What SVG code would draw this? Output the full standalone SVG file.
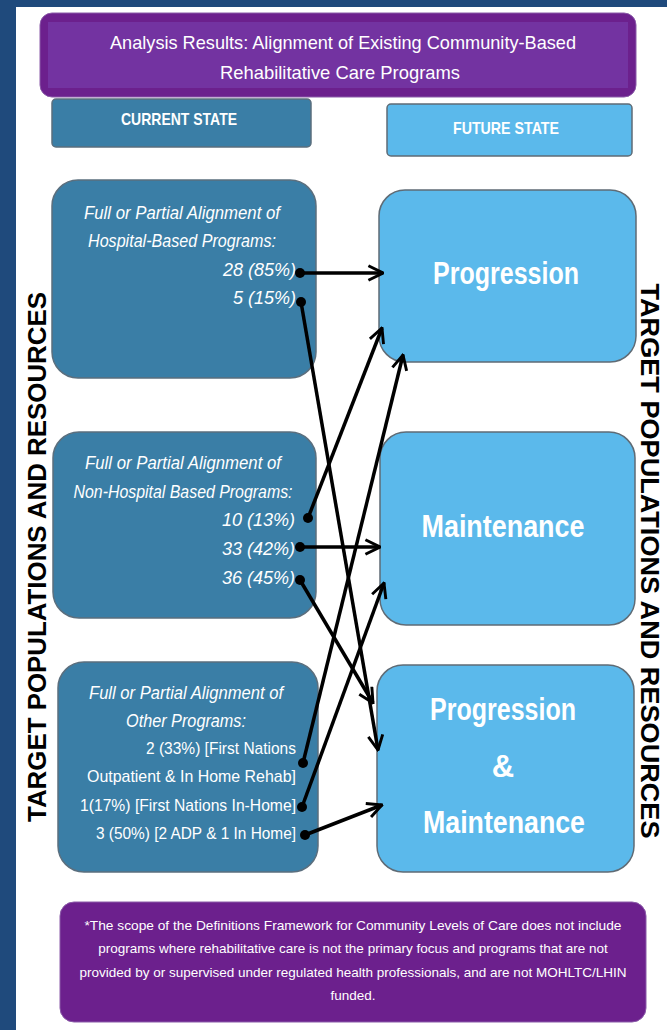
<svg xmlns="http://www.w3.org/2000/svg" width="667" height="1030" viewBox="0 0 667 1030">
<style>
.cur{fill:#3a7ea6;stroke:#5b6f7e;stroke-width:1.5}
.fut{fill:#5bb9eb;stroke:#5f6b75;stroke-width:1.5}
.pur{fill:#6c208d;stroke:#8a5aa8;stroke-width:1}
.t{font-family:"Liberation Sans","Arial",sans-serif;fill:#fff}
.it{font-style:italic;font-size:18px}
.nm{font-size:17px}
.big{font-family:"Liberation Sans","Arial",sans-serif;fill:#fff;font-size:31px;font-weight:bold;text-anchor:middle}
.side{font-family:"Liberation Sans","Arial",sans-serif;font-weight:bold;font-size:26px;fill:#000;text-anchor:middle}
.ln{stroke:#000;stroke-width:3.5;fill:none}
</style>
<defs>
<marker id="ah" viewBox="0 0 12 12" refX="11" refY="6" markerWidth="5" markerHeight="5" markerUnits="strokeWidth" orient="auto">
<path d="M1,1 L11,6 L1,11" fill="none" stroke="#000" stroke-width="2"/>
</marker>
</defs>
<rect x="0" y="0" width="667" height="1030" fill="#fff"/>
<rect x="0" y="0" width="667" height="7" fill="#1f4a7c"/>
<rect x="0" y="0" width="16" height="1030" fill="#1f4a7c"/>

<g id="title">
<rect class="pur" x="40" y="13" width="596" height="84" rx="12"/>
<rect x="48" y="22" width="580" height="66" fill="#7333a1"/>
<text class="t" x="343" y="49" font-size="19" text-anchor="middle" textLength="466" lengthAdjust="spacingAndGlyphs">Analysis Results:  Alignment of Existing Community-Based</text>
<text class="t" x="340" y="79" font-size="19" text-anchor="middle" textLength="240" lengthAdjust="spacingAndGlyphs">Rehabilitative Care Programs</text>
</g>
<g id="current-state">
<rect class="cur" x="52" y="99" width="259" height="48" rx="4" stroke="#2a4a5e" stroke-width="2"/>
<text class="t" x="179" y="125" font-size="17" font-weight="bold" text-anchor="middle" textLength="116" lengthAdjust="spacingAndGlyphs">CURRENT STATE</text>
</g>
<g id="future-state">
<rect class="fut" x="387" y="104" width="245" height="52" rx="4"/>
<text class="t" x="506" y="134" font-size="17" font-weight="bold" text-anchor="middle" textLength="106" lengthAdjust="spacingAndGlyphs">FUTURE STATE</text>
</g>

<g id="hospital">
<rect class="cur" x="52" y="180" width="264" height="198" rx="26"/>
<text class="t it" x="182" y="219" text-anchor="middle" textLength="196" lengthAdjust="spacingAndGlyphs">Full or Partial Alignment of</text>
<text class="t it" x="182" y="247" text-anchor="middle" textLength="188" lengthAdjust="spacingAndGlyphs">Hospital-Based Programs:</text>
<text class="t it" x="296" y="276" text-anchor="end">28 (85%)</text>
<text class="t it" x="296" y="304" text-anchor="end">5 (15%)</text>
</g>
<g id="non-hospital">
<rect class="cur" x="53" y="432" width="263" height="186" rx="26"/>
<text class="t it" x="183" y="469" text-anchor="middle" textLength="196" lengthAdjust="spacingAndGlyphs">Full or Partial Alignment of</text>
<text class="t it" x="183" y="498" text-anchor="middle" textLength="219" lengthAdjust="spacingAndGlyphs">Non-Hospital  Based Programs:</text>
<text class="t it" x="295" y="526" text-anchor="end">10 (13%)</text>
<text class="t it" x="295" y="555" text-anchor="end">33 (42%)</text>
<text class="t it" x="295" y="584" text-anchor="end">36 (45%)</text>
</g>
<g id="other">
<rect class="cur" x="58" y="662" width="260" height="210" rx="26"/>
<text class="t it" x="186" y="699" text-anchor="middle" textLength="194" lengthAdjust="spacingAndGlyphs">Full or Partial Alignment of</text>
<text class="t it" x="186" y="727" text-anchor="middle" textLength="120" lengthAdjust="spacingAndGlyphs">Other Programs:</text>
<text class="t nm" x="296" y="754" text-anchor="end" textLength="150" lengthAdjust="spacingAndGlyphs">2 (33%) [First Nations</text>
<text class="t nm" x="296" y="782" text-anchor="end" textLength="209" lengthAdjust="spacingAndGlyphs">Outpatient &amp; In Home Rehab]</text>
<text class="t nm" x="296" y="811" text-anchor="end" textLength="216" lengthAdjust="spacingAndGlyphs">1(17%) [First Nations In-Home]</text>
<text class="t nm" x="296" y="839" text-anchor="end" textLength="200" lengthAdjust="spacingAndGlyphs">3 (50%) [2 ADP &amp; 1 In Home]</text>
</g>

<g id="progression">
<rect class="fut" x="379" y="190" width="257" height="172" rx="26"/>
<text class="big" x="506" y="284" textLength="146" lengthAdjust="spacingAndGlyphs">Progression</text>
</g>
<g id="maintenance">
<rect class="fut" x="380" y="432" width="255" height="193" rx="26"/>
<text class="big" x="503" y="537" textLength="163" lengthAdjust="spacingAndGlyphs">Maintenance</text>
</g>
<g id="prog-maint">
<rect class="fut" x="377" y="665" width="257" height="207" rx="26"/>
<text class="big" x="503" y="720" textLength="146" lengthAdjust="spacingAndGlyphs">Progression</text>
<text class="big" x="503" y="777">&amp;</text>
<text class="big" x="504" y="833" textLength="162" lengthAdjust="spacingAndGlyphs">Maintenance</text>
</g>

<g id="connectors">
<line class="ln" x1="300" y1="273" x2="383" y2="273" marker-end="url(#ah)"/>
<line class="ln" x1="301" y1="302" x2="378" y2="750" marker-end="url(#ah)"/>
<line class="ln" x1="308" y1="518" x2="382" y2="328" marker-end="url(#ah)"/>
<line class="ln" x1="300" y1="547" x2="380" y2="547" marker-end="url(#ah)"/>
<line class="ln" x1="300" y1="580" x2="373" y2="703" marker-end="url(#ah)"/>
<line class="ln" x1="303" y1="763" x2="403" y2="355" marker-end="url(#ah)"/>
<line class="ln" x1="302" y1="807" x2="384" y2="583" marker-end="url(#ah)"/>
<line class="ln" x1="305" y1="835" x2="382" y2="805" marker-end="url(#ah)"/>
<g fill="#000">
<circle cx="300" cy="273" r="5"/>
<circle cx="301" cy="302" r="5"/>
<circle cx="308" cy="518" r="5"/>
<circle cx="300" cy="547" r="5"/>
<circle cx="300" cy="580" r="5"/>
<circle cx="303" cy="763" r="5"/>
<circle cx="302" cy="807" r="5"/>
<circle cx="305" cy="835" r="5"/>
</g>
</g>

<g id="left-label">
<text class="side" transform="translate(46,557) rotate(-90)" textLength="530" lengthAdjust="spacingAndGlyphs">TARGET POPULATIONS AND RESOURCES</text>
</g>
<g id="right-label">
<text class="side" transform="translate(641,561) rotate(90)" textLength="555" lengthAdjust="spacingAndGlyphs">TARGET POPULATIONS AND RESOURCES</text>
</g>

<g id="footnote">
<rect class="pur" x="60" y="902" width="586" height="120" rx="14"/>
<text class="t" font-size="13.5" text-anchor="middle" x="353" y="930" textLength="537" lengthAdjust="spacingAndGlyphs">*The scope of the Definitions Framework for Community Levels of  Care does not include</text>
<text class="t" font-size="13.5" text-anchor="middle" x="353" y="953">programs where rehabilitative care is not the primary focus  and programs that are not</text>
<text class="t" font-size="13.5" text-anchor="middle" x="353" y="977">provided by or supervised under regulated health professionals, and are not MOHLTC/LHIN</text>
<text class="t" font-size="13.5" text-anchor="middle" x="353" y="1000">funded.</text>
</g>
</svg>
